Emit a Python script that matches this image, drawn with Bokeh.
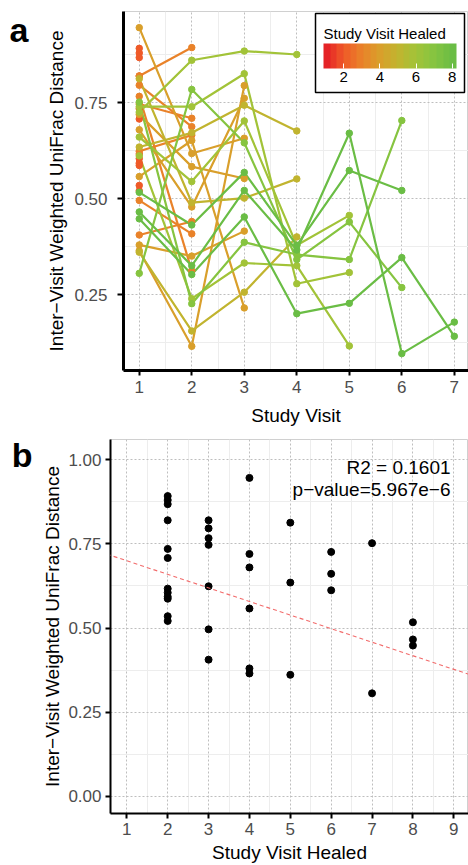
from bokeh.plotting import figure
from bokeh.layouts import column, row
from bokeh.models import (LinearColorMapper, ColorBar, FixedTicker, Slope, Label,
                          Range1d, PrintfTickFormatter, LinearAxis)
from bokeh.embed import file_html
from bokeh.resources import INLINE

FONT = "Liberation Sans"

# ---------------- data: panel a (trajectories per subject, visits 1..n) ----------------
traj_healed = [2, 2, 2, 2, 2, 2, 2, 2, 2, 2, 2, 2,
               3, 3, 3, 3, 3, 3, 3,
               4, 4, 4, 4, 4, 4,
               5, 5, 5,
               6, 6, 6, 6,
               7, 7,
               8, 8, 8]
traj_dist = [
    [0.892], [0.880], [0.868], [0.820], [0.735], [0.708],
    [0.617], [0.605], [0.593], [0.587], [0.535], [0.521],
    [0.820, 0.894],
    [0.796, 0.688],
    [0.767, 0.313],
    [0.747, 0.710],
    [0.624, 0.666],
    [0.496, 0.409],
    [0.406, 0.441],
    [0.946, 0.618, 0.658],
    [0.720, 0.584, 0.553],
    [0.680, 0.479, 0.762],
    [0.558, 0.652, 0.216],
    [0.380, 0.351, 0.416],
    [0.365, 0.116, 0.795],
    [0.813, 0.490, 0.502, 0.552],
    [0.635, 0.672, 0.744, 0.677],
    [0.361, 0.156, 0.257, 0.401],
    [0.726, 0.861, 0.885, 0.876],
    [0.661, 0.545, 0.703, 0.379, 0.457],
    [0.612, 0.240, 0.333, 0.326, 0.117],
    [0.740, 0.740, 0.826, 0.279, 0.308],
    [0.752, 0.227, 0.387, 0.355, 0.342, 0.704],
    [0.306, 0.785, 0.646, 0.342, 0.440, 0.269],
    [0.448, 0.303, 0.453, 0.201, 0.228, 0.347, 0.142],
    [0.466, 0.326, 0.522, 0.367, 0.671, 0.097, 0.179],
    [0.517, 0.432, 0.569, 0.379, 0.574, 0.522],
]
a_xticks = [1, 2, 3, 4, 5, 6, 7]
a_yticks = [0.25, 0.50, 0.75]
legend_ticks = [2, 4, 6, 8]

# ---------------- data: panel b ----------------
b_healed = [2] * 12 + [3] * 7 + [4] * 6 + [5] * 3 + [6] * 3 + [7] * 2 + [8] * 3
b_dist = [0.892, 0.880, 0.868, 0.820, 0.735, 0.708, 0.617, 0.605, 0.593, 0.587, 0.535, 0.521,
          0.820, 0.796, 0.767, 0.747, 0.624, 0.496, 0.406,
          0.946, 0.720, 0.680, 0.558, 0.380, 0.365,
          0.813, 0.635, 0.361,
          0.726, 0.661, 0.612,
          0.752, 0.306,
          0.517, 0.466, 0.448]
b_fit_intercept = 0.740
b_fit_slope = -0.0403
b_xticks = [1, 2, 3, 4, 5, 6, 7, 8, 9]
b_yticks = [0.00, 0.25, 0.50, 0.75, 1.00]
stat_lines = ["R2 = 0.1601", "p\u2212value=5.967e\u22126"]
panel_tags = ["a", "b"]

# ---------------- colour scale ----------------
anchor_vals = [1, 2, 3, 4, 5, 6, 7, 8]
anchor_cols = ["#E41F26", "#EF5A28", "#E98229", "#D99F2B", "#C1B42F", "#A2C338", "#86C440", "#6ABD45"]


def _rgb(h):
    return tuple(int(h[i:i + 2], 16) for i in (1, 3, 5))


def scale_color(v):
    v = min(max(v, anchor_vals[0]), anchor_vals[-1])
    for i in range(len(anchor_vals) - 1):
        if v <= anchor_vals[i + 1]:
            t = (v - anchor_vals[i]) / (anchor_vals[i + 1] - anchor_vals[i])
            c0, c1 = _rgb(anchor_cols[i]), _rgb(anchor_cols[i + 1])
            c = [round(c0[k] + (c1[k] - c0[k]) * t) for k in range(3)]
            return "#%02X%02X%02X" % tuple(c)
    return anchor_cols[-1]


NBIN = 20
bar_low, bar_high = 0.88, 8.24
palette = [scale_color(bar_low + (bar_high - bar_low) * (i + 0.5) / NBIN) for i in range(NBIN)]


def style_axes(p, axis_w, ytick_out, ytick_standoff, ylabel_standoff, xtick_standoff, xlabel_standoff):
    for ax in (p.xaxis[0], p.yaxis[0]):
        ax.axis_line_color = "black"
        ax.axis_line_width = axis_w
        ax.major_tick_line_color = "black"
        ax.major_tick_line_width = 2
        ax.major_tick_in = 0
        ax.minor_tick_line_color = None
        ax.major_label_text_font = FONT
        ax.major_label_text_font_size = "17px"
        ax.major_label_text_color = "#4D4D4D"
        ax.axis_label_text_font = FONT
        ax.axis_label_text_font_size = "19px"
        ax.axis_label_text_font_style = "normal"
        ax.axis_label_text_color = "black"
    p.yaxis[0].major_tick_out = ytick_out
    p.xaxis[0].major_tick_out = 5
    p.yaxis[0].major_label_standoff = ytick_standoff
    p.xaxis[0].major_label_standoff = xtick_standoff
    p.yaxis[0].axis_label_standoff = ylabel_standoff
    p.xaxis[0].axis_label_standoff = xlabel_standoff
    for g in (p.xgrid[0], p.ygrid[0]):
        g.grid_line_color = "#BEBEBE"
        g.grid_line_dash = "2 2"
        g.grid_line_width = 1
        g.minor_grid_line_color = "#EDEDED"
        g.minor_grid_line_width = 1
    p.outline_line_color = "#D0D0D0"
    p.outline_line_width = 1
    p.background_fill_color = "white"
    p.border_fill_color = "white"


def tag_axis(p, tag, yval, standoff):
    ax = LinearAxis(ticker=FixedTicker(ticks=[yval]), major_label_overrides={yval: tag},
                    axis_line_color=None, major_tick_line_color=None, minor_tick_line_color=None,
                    major_label_standoff=standoff, major_label_text_font=FONT,
                    major_label_text_font_size="34px", major_label_text_font_style="bold",
                    major_label_text_color="black")
    p.add_layout(ax, "left")


def minor_between(ticks):
    return [(ticks[i] + ticks[i + 1]) / 2 for i in range(len(ticks) - 1)]


# ---------------- panel a ----------------
p1 = figure(width=468, height=428, x_range=Range1d(0.7, 7.27), y_range=Range1d(0.053, 0.988),
            output_backend="svg", toolbar_location=None,
            min_border_left=123, min_border_right=0, min_border_top=11, min_border_bottom=58)
p1.xaxis.ticker = FixedTicker(ticks=a_xticks, minor_ticks=minor_between(a_xticks))
p1.yaxis.ticker = FixedTicker(ticks=a_yticks, minor_ticks=[0.125] + minor_between(a_yticks) + [0.875])
p1.yaxis.formatter = PrintfTickFormatter(format="%.2f")
p1.xaxis.axis_label = "Study Visit"
p1.yaxis.axis_label = "Inter\u2212Visit Weighted UniFrac Distance"
style_axes(p1, 3, 6, 10, 4, 5, 9)
tag_axis(p1, panel_tags[0], 0.941, 9)

line_xs, line_ys, line_cols = [], [], []
pt_x, pt_y, pt_c = [], [], []
for h, vals in zip(traj_healed, traj_dist):
    visits = list(range(1, len(vals) + 1))
    c = scale_color(h)
    if len(vals) > 1:
        line_xs.append(visits)
        line_ys.append(vals)
        line_cols.append(c)
    pt_x.extend(visits)
    pt_y.extend(vals)
    pt_c.extend([c] * len(vals))

p1.multi_line(xs=line_xs, ys=line_ys, line_color=line_cols, line_width=2.2)
p1.scatter(x=pt_x, y=pt_y, fill_color=pt_c, line_color=pt_c, size=6.5)

mapper = LinearColorMapper(palette=palette, low=bar_low, high=bar_high)
cb = ColorBar(color_mapper=mapper, orientation="horizontal", width=133, height=25,
              location=(192, 278), padding=8,
              title="Study Visit Healed", title_text_font=FONT, title_text_font_size="15px",
              title_text_font_style="normal", title_text_color="black", title_standoff=3,
              ticker=FixedTicker(ticks=legend_ticks), major_label_text_font=FONT,
              major_label_text_font_size="15px", major_label_text_color="black",
              label_standoff=3,
              major_tick_line_color="white", major_tick_in=5, major_tick_out=0,
              minor_tick_line_color=None, bar_line_color=None,
              border_line_color="black", border_line_width=1.5,
              background_fill_color="white", background_fill_alpha=1.0)
p1.add_layout(cb, "center")

# ---------------- panel b ----------------
p2 = figure(width=468, height=437, x_range=Range1d(0.6, 9.36), y_range=Range1d(-0.051, 1.06),
            output_backend="svg", toolbar_location=None,
            min_border_left=110, min_border_right=0, min_border_top=11, min_border_bottom=50)
p2.xaxis.ticker = FixedTicker(ticks=b_xticks, minor_ticks=minor_between(b_xticks))
p2.yaxis.ticker = FixedTicker(ticks=b_yticks, minor_ticks=minor_between(b_yticks))
p2.yaxis.formatter = PrintfTickFormatter(format="%.2f")
p2.xaxis.axis_label = "Study Visit Healed"
p2.yaxis.axis_label = "Inter\u2212Visit Weighted UniFrac Distance"
style_axes(p2, 2, 5, 4, 2, 4, 4)
tag_axis(p2, panel_tags[1], 1.0599, 1)

p2.add_layout(Slope(gradient=b_fit_slope, y_intercept=b_fit_intercept,
                    line_color="#F26B6B", line_dash="4 3", line_width=1.1))
p2.scatter(x=b_healed, y=b_dist, size=7, fill_color="black", line_color="black")

for txt, yv in zip(stat_lines, [0.978, 0.912]):
    p2.add_layout(Label(x=8.92, y=yv, text=txt, text_align="right", text_baseline="middle",
                        text_font=FONT, text_font_size="19px", text_color="black"))

layout = column(row(p1), row(p2), spacing=0)
open("out.html", "w").write(file_html(layout, INLINE))
